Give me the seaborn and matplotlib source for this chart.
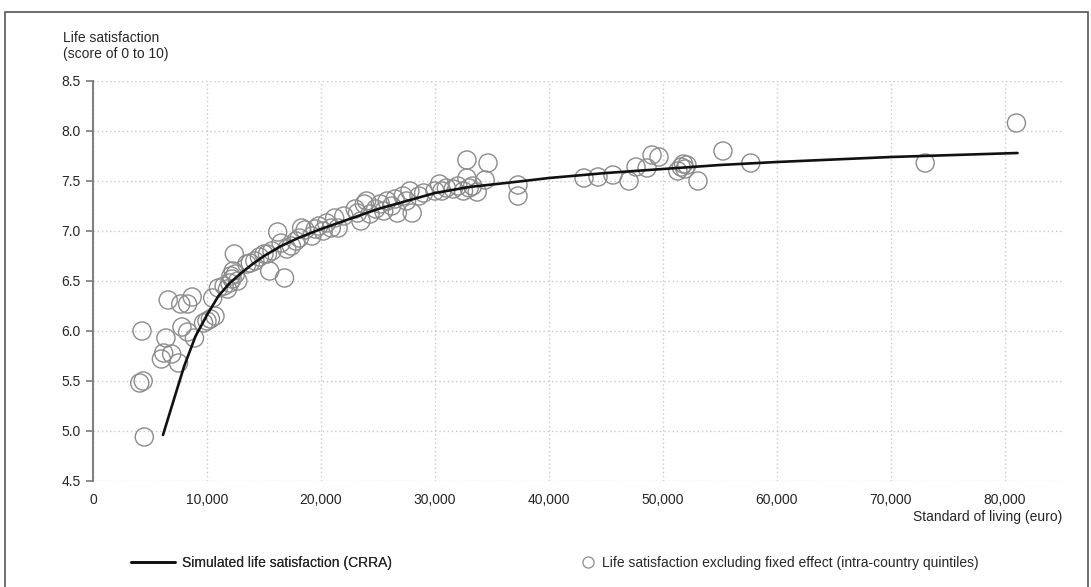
import matplotlib
matplotlib.use("Agg")
import matplotlib.pyplot as plt
from matplotlib.patches import Rectangle
from matplotlib.lines import Line2D
import seaborn as sns
import pandas as pd

# observed points: life satisfaction excluding fixed effect (intra-country quintiles)
obs_x = [4300, 4100, 4400, 4500, 6000, 6200, 6400, 6900, 7500, 6600, 7700, 8300, 8700,
         7800, 8300, 8900, 9700, 10000, 10300, 10700, 10500, 11000, 11500, 11800, 12000,
         12200, 12500, 12300, 12400, 12100, 12700, 13500, 13800, 14200, 14600, 15000,
         15300, 15500, 15700, 16200, 16500, 16800, 17000, 17400, 17800, 18100, 18300,
         18600, 19200, 19500, 19800, 20200, 20500, 20900, 21200, 21500, 22000, 23000,
         23200, 23500, 23800, 24000, 24300, 24800, 25200, 25500, 25800, 26200, 26500,
         26700, 27200, 27500, 27800, 28000, 28600, 29000, 30000, 30400, 30600, 31000,
         31600, 32000, 32500, 32800, 32800, 33000, 33300, 33700, 34400, 34650, 37280,
         37280, 43070, 44300, 45610, 47020, 47630, 48600, 49040, 49650, 51300, 51600,
         51800, 51930, 52100, 53070, 55260, 57700, 73000, 81000]
obs_y = [6.00, 5.48, 5.50, 4.94, 5.72, 5.78, 5.93, 5.77, 5.68, 6.31, 6.27, 6.27, 6.34,
         6.04, 5.99, 5.93, 6.08, 6.10, 6.12, 6.15, 6.33, 6.43, 6.45, 6.42, 6.48,
         6.52, 6.57, 6.60, 6.77, 6.55, 6.50, 6.67, 6.68, 6.70, 6.74, 6.77,
         6.77, 6.60, 6.80, 6.99, 6.88, 6.53, 6.82, 6.85, 6.90, 6.93, 7.03,
         7.01, 6.95, 7.02, 7.05, 7.00, 7.08, 7.03, 7.13, 7.03, 7.15, 7.22,
         7.18, 7.10, 7.27, 7.30, 7.17, 7.22, 7.27, 7.20, 7.30, 7.25, 7.32,
         7.18, 7.35, 7.30, 7.40, 7.18, 7.35, 7.38, 7.40, 7.47, 7.40, 7.43,
         7.42, 7.45, 7.40, 7.71, 7.53, 7.43, 7.45, 7.39, 7.51, 7.68, 7.46,
         7.35, 7.53, 7.54, 7.56, 7.50, 7.64, 7.63, 7.76, 7.74, 7.60, 7.64,
         7.67, 7.62, 7.66, 7.50, 7.80, 7.68, 7.68, 8.08]

# simulated life satisfaction (CRRA)
sim_x = [6140, 7000, 8000, 9000, 10000, 11000, 12000, 13000, 14000, 15000, 16500,
         18000, 20000, 22500, 25000, 27500, 30000, 33000, 37000, 40000, 45000, 50000,
         55000, 60000, 70000, 81100]
sim_y = [4.96, 5.28, 5.65, 5.95, 6.16, 6.35, 6.48, 6.58, 6.67, 6.75, 6.85,
         6.93, 7.02, 7.12, 7.22, 7.30, 7.38, 7.44, 7.49, 7.53, 7.58, 7.62,
         7.66, 7.69, 7.74, 7.78]

x_ticks = list(range(0, 90000, 10000))
y_ticks = [4.5, 5.0, 5.5, 6.0, 6.5, 7.0, 7.5, 8.0, 8.5]

sns.set_theme(style="white")
plt.rcParams['font.family'] = ['Liberation Sans', 'DejaVu Sans']
fs = 10

fig = plt.figure(figsize=(10.91, 5.87), dpi=100)
ax = fig.add_axes([93 / 1091, 1 - 481 / 587, (1062 - 93) / 1091, 400 / 587])

obs = pd.DataFrame({"x": obs_x, "y": obs_y})
sim = pd.DataFrame({"x": sim_x, "y": sim_y})

sns.scatterplot(data=obs, x="x", y="y", ax=ax, s=170, facecolor="none",
                edgecolor="#8c8c8c", linewidth=1.0, zorder=3)
sns.lineplot(data=sim, x="x", y="y", ax=ax, color="#111111", linewidth=1.9,
             sort=False, estimator=None, zorder=4)

ax.set_xlim(0, 85000)
ax.set_ylim(4.5, 8.5)
ax.set_xticks(x_ticks)
ax.set_xticklabels([f"{v:,}" for v in x_ticks])
ax.set_yticks(y_ticks)
ax.set_yticklabels([f"{v:.1f}" for v in y_ticks])
ax.grid(True, color="#c8c8c8", linestyle=(0, (1, 2)), linewidth=1.0)
ax.set_axisbelow(True)
for s in ["top", "right", "bottom"]:
    ax.spines[s].set_visible(False)
ax.spines["left"].set_color("#808080")
ax.spines["left"].set_linewidth(1.5)
ax.tick_params(axis="y", left=True, length=5, color="#808080", labelsize=fs, pad=4)
ax.tick_params(axis="x", bottom=False, labelsize=fs, pad=3)
ax.set_xlabel("")
ax.set_ylabel("")

fig.text(63 / 1091, 1 - 31 / 587, "Life satisfaction\n(score of 0 to 10)", ha="left",
         va="top", fontsize=fs, linespacing=1.2)
fig.text(1062 / 1091, 1 - 517 / 587, "Standard of living (euro)", ha="right",
         va="center", fontsize=fs)

line_h = Line2D([0], [0], color="#111111", lw=1.9)
circ_h = Line2D([0], [0], marker="o", color="none", markerfacecolor="none",
                markeredgecolor="#8c8c8c", markersize=8, markeredgewidth=0.9)
leg1 = fig.legend([line_h], ["Simulated life satisfaction (CRRA)"], loc="center left",
                  bbox_to_anchor=(118 / 1091, 1 - 563 / 587), frameon=False,
                  fontsize=fs, handlelength=3.2, handletextpad=0.5)
fig.add_artist(leg1)
fig.legend([circ_h], ["Life satisfaction excluding fixed effect (intra-country quintiles)"],
           loc="center left", bbox_to_anchor=(565 / 1091, 1 - 563 / 587), frameon=False,
           fontsize=fs, handlelength=1.5, handletextpad=0.25)

fig.patches.append(Rectangle((5 / 1091, -0.01), 1083 / 1091, 1 - 12 / 587 + 0.01,
                             transform=fig.transFigure, fill=False,
                             edgecolor="#555555", linewidth=1.2))

fig.savefig("out.png", dpi=100)
